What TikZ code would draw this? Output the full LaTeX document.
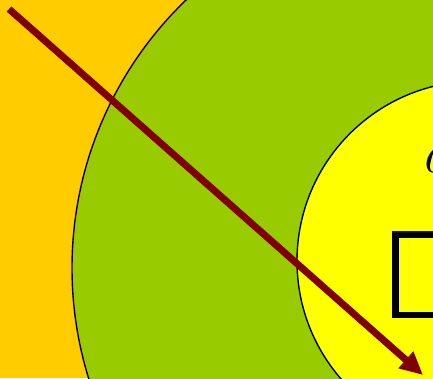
\documentclass[tikz,border=0pt]{standalone}
\usepackage{fontspec}
\usetikzlibrary{arrows.meta}
\definecolor{bgorange}{HTML}{FFCC00}
\definecolor{leafgreen}{HTML}{99CC00}
\definecolor{brightyellow}{HTML}{FFFF00}
\definecolor{maroonred}{HTML}{800000}
\tikzset{
  ring/.style={draw=black, line width=1.4pt},
  frame/.style={draw=black, line width=6.5pt},
  bigarrow/.style={draw=maroonred, line width=7pt, -{Triangle[length=23pt,width=21pt]}}
}
\begin{document}
\begin{tikzpicture}[x=1pt,y=-1pt]
\useasboundingbox (0,0) rectangle (433,378);
\clip (0,0) rectangle (433,378);
\fill[bgorange] (0,0) rectangle (433,378);
\node[ring, fill=leafgreen, circle, minimum size=744pt, inner sep=0pt] (outer) at (444,268) {};
\node[ring, fill=brightyellow, circle, minimum size=360pt, inner sep=0pt] (inner) at (477,261) {};
\node[anchor=base west, inner sep=0pt, font=\fontsize{56}{60}\selectfont\itshape] (lbl) at (421,172) {a};
\node[frame, anchor=north west, minimum width=120pt, minimum height=80.5pt, inner sep=0pt] (box) at (392,231) {};
\coordinate (s) at (9,9);
\coordinate (t) at (423,375);
\draw[bigarrow] (s) -- (t);
\end{tikzpicture}
\end{document}
